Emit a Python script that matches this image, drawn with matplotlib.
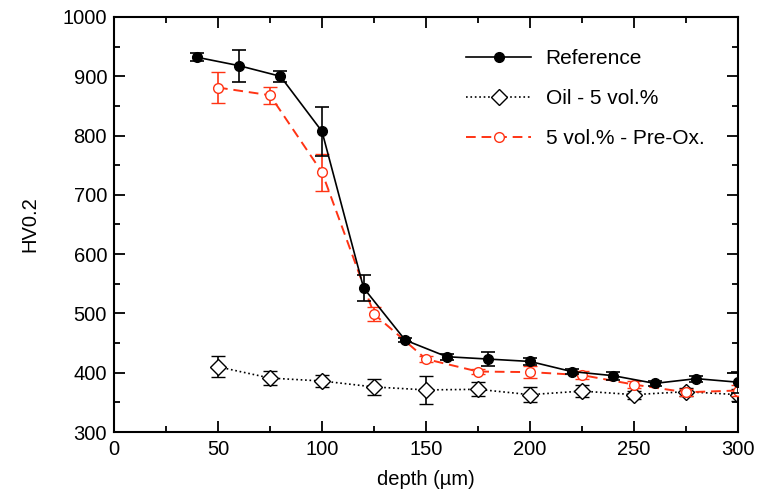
import matplotlib.pyplot as plt
from matplotlib.ticker import MultipleLocator
from matplotlib.lines import Line2D

plt.rcParams['font.family'] = ['Liberation Sans', 'DejaVu Sans']

# Reference series
ref_x = [40, 60, 80, 100, 120, 140, 160, 180, 200, 220, 240, 260, 280, 300]
ref_y = [932, 918, 900, 807, 543, 455, 427, 423, 419, 402, 395, 382, 390, 384]
ref_err = [7, 27, 9, 41, 22, 4, 5, 12, 6, 4, 7, 4, 5, 18]

# Oil - 5 vol.%
oil_x = [50, 75, 100, 125, 150, 175, 200, 225, 250, 275, 300]
oil_y = [410, 391, 386, 376, 371, 372, 363, 369, 363, 368, 363]
oil_err = [18, 12, 10, 13, 24, 12, 13, 10, 7, 7, 10]

# 5 vol.% - Pre-Ox.
pre_x = [50, 75, 100, 125, 150, 175, 200, 225, 250, 275, 300]
pre_y = [881, 868, 738, 499, 423, 402, 401, 396, 380, 367, 370]
pre_err = [26, 14, 31, 12, 5, 5, 10, 7, 6, 6, 10]

labels = ['Reference', 'Oil - 5 vol.%', '5 vol.% - Pre-Ox.']
red = '#ff3314'

fig = plt.figure(figsize=(7.62, 4.94), dpi=100)
ax = fig.add_axes([0.1496, 0.1255, 0.8189, 0.8401])

ref_style = dict(color='black', marker='o', markersize=7, linestyle='-', linewidth=1.2)
oil_style = dict(color='black', marker='D', markersize=8, markerfacecolor='white',
                 markeredgewidth=1.0, linestyle=':', linewidth=1.2)
pre_style = dict(color=red, marker='o', markersize=7, markerfacecolor='white',
                 markeredgewidth=1.0, linestyle=(0, (5, 3)), linewidth=1.4)
eb = dict(capsize=5, elinewidth=1.2, capthick=1.2)

ax.errorbar(ref_x, ref_y, yerr=ref_err, zorder=4, **ref_style, **eb)
ax.errorbar(oil_x, oil_y, yerr=oil_err, zorder=2, **oil_style, **eb)
ax.errorbar(pre_x, pre_y, yerr=pre_err, zorder=3, **pre_style, **eb)

ax.set_xlim(0, 300)
ax.set_ylim(300, 1000)
ax.xaxis.set_major_locator(MultipleLocator(50))
ax.xaxis.set_minor_locator(MultipleLocator(25))
ax.yaxis.set_major_locator(MultipleLocator(100))
ax.yaxis.set_minor_locator(MultipleLocator(50))
ax.tick_params(which='both', direction='in', top=True, right=True, width=1.3, labelsize=14.5)
ax.tick_params(which='major', length=8)
ax.tick_params(which='minor', length=4)
ax.tick_params(axis='x', pad=6)
ax.tick_params(axis='y', pad=5)
for s in ax.spines.values():
    s.set_linewidth(1.5)

ax.set_xlabel('depth (µm)', fontsize=14.5, labelpad=8)
ax.set_ylabel('HV0.2', fontsize=14.5, labelpad=17)

handles = [Line2D([], [], **ref_style), Line2D([], [], **oil_style), Line2D([], [], **pre_style)]
ax.legend(handles, labels, loc='upper left', bbox_to_anchor=(0.548, 0.947), frameon=False,
          fontsize=15, borderpad=0, handlelength=3.1, labelspacing=1.0, handletextpad=0.7)

fig.savefig('out.png', dpi=100)
